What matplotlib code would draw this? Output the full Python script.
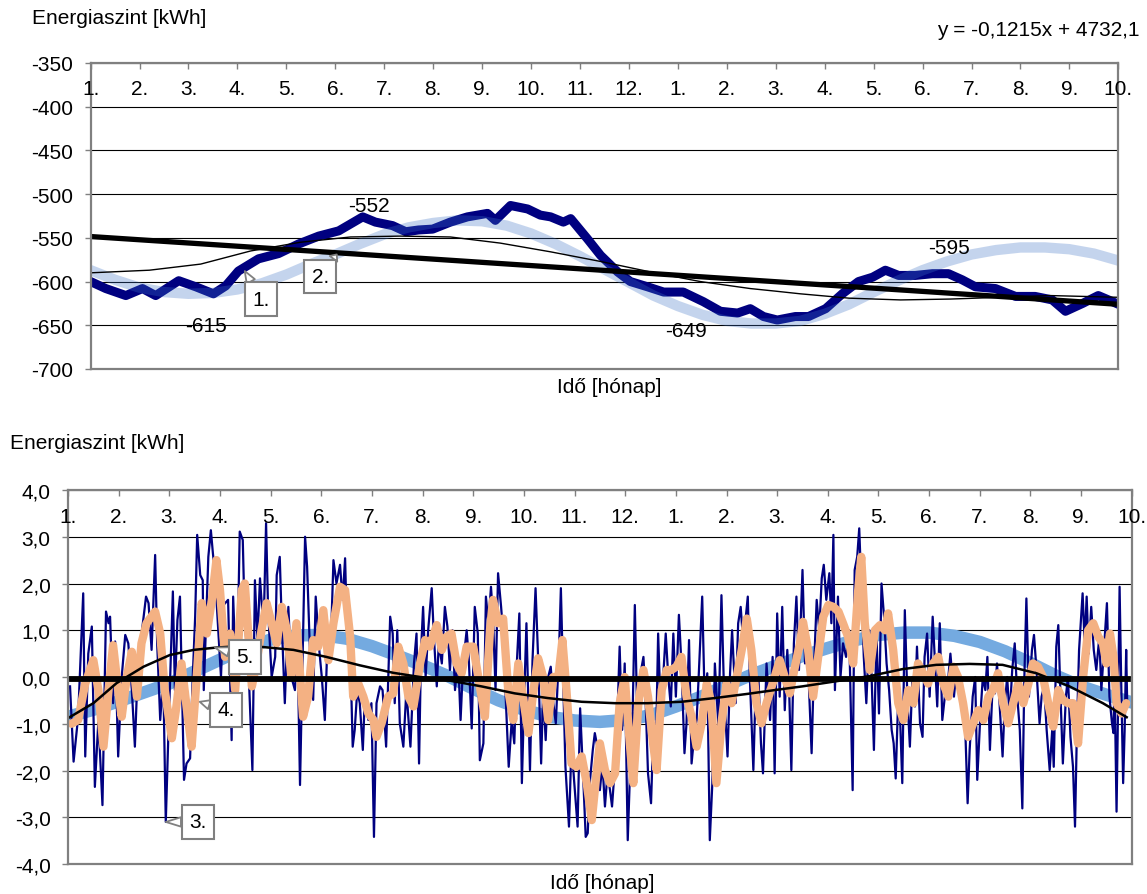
import matplotlib
matplotlib.use("Agg")
import matplotlib.pyplot as plt
from matplotlib.transforms import blended_transform_factory

plt.rcParams["font.family"] = ["Liberation Sans", "DejaVu Sans"]
plt.rcParams["font.size"] = 15

# time axis in months from the first day (0 = "1." of the first year)
month_labels = [f"{m}." for m in range(1, 13)] + [f"{m}." for m in range(1, 11)]

# ---- upper chart: energy level [kWh]
level = [
    (0.00, -600), (0.31, -608), (0.72, -616), (1.06, -608), (1.33, -616), (1.80, -599),
    (2.15, -606), (2.51, -614), (2.76, -605), (3.02, -588), (3.43, -574), (3.84, -568),
    (4.25, -557), (4.66, -548), (5.07, -542), (5.56, -526), (5.82, -532), (6.17, -536),
    (6.44, -543), (6.70, -541), (6.99, -540), (7.35, -532), (7.70, -526), (8.11, -522),
    (8.27, -530), (8.58, -513), (8.93, -517), (9.19, -524), (9.40, -526), (9.66, -532),
    (9.81, -528), (10.15, -551), (10.42, -570), (10.77, -589), (11.03, -600), (11.38, -606),
    (11.71, -612), (12.11, -612), (12.52, -623), (12.87, -634), (13.22, -636), (13.48, -631),
    (13.75, -640), (14.03, -644), (14.40, -640), (14.67, -640), (15.02, -631), (15.36, -614),
    (15.69, -600), (15.98, -595), (16.24, -587), (16.51, -593), (16.85, -593), (17.20, -591),
    (17.53, -591), (17.81, -598), (18.08, -606), (18.49, -608), (18.90, -617), (19.30, -617),
    (19.65, -621), (19.92, -634), (20.27, -625), (20.59, -616), (20.80, -621), (21.00, -626),
]
level_sine = [
    (0.0, -587), (0.5, -598), (1.0, -607), (1.5, -612), (2.0, -614), (2.5, -613),
    (3.0, -609), (3.5, -602), (4.0, -592), (4.5, -580), (5.0, -569), (5.5, -557),
    (6.0, -546), (6.5, -538), (7.0, -533), (7.5, -530), (8.0, -531), (8.5, -536),
    (9.0, -545), (9.5, -557), (10.0, -571), (10.5, -586), (11.0, -601), (11.5, -616),
    (12.0, -628), (12.5, -638), (13.0, -645), (13.5, -648), (14.0, -648), (14.5, -645),
    (15.0, -637), (15.5, -626), (16.0, -612), (16.5, -599), (17.0, -587), (17.5, -577),
    (18.0, -569), (18.5, -564), (19.0, -561), (19.5, -561), (20.0, -563), (20.5, -568),
    (21.0, -576),
]
level_poly = [
    (0.0, -590), (1.2, -587), (2.25, -580), (3.27, -565), (4.29, -555), (5.31, -549),
    (6.33, -548), (7.35, -549), (8.37, -556), (9.4, -566), (10.42, -577), (11.44, -589),
    (12.46, -600), (13.48, -608), (14.0, -611), (14.5, -614), (15.5, -619), (16.55, -621),
    (17.57, -620), (18.6, -618), (19.6, -616), (21.0, -618),
]
trend_t = [0.0, 21.0]
trend_v = [-548.5, -626.0]
extreme_labels = [("-552", 5.69, -513), ("-615", 2.36, -650), ("-649", 12.17, -656), ("-595", 17.54, -561)]

# ---- lower chart: residual after removing the trend [kWh]
residual = [
    (0.04, -0.2), (0.11, -1.81), (0.20, -0.85), (0.30, 1.79), (0.34, -1.7), (0.40, 0.5), (0.47, 1.08),
    (0.53, -2.35), (0.60, -0.92), (0.68, -2.74), (0.75, 1.4), (0.80, 1.15), (0.83, 1.29), (0.89, -0.56),
    (0.93, 0.76), (0.99, -1.7), (1.06, 0.0), (1.13, 0.9), (1.19, 0.72), (1.26, -0.28), (1.32, -1.49),
    (1.39, 0.58), (1.45, 0.9), (1.54, 1.72), (1.59, 1.58), (1.65, 0.58), (1.72, 2.61), (1.76, 0.72),
    (1.82, -0.92), (1.88, 0.0), (1.93, -3.1), (1.98, -1.28), (2.07, 1.83), (2.11, -0.28), (2.16, 1.22),
    (2.21, 1.72), (2.29, -2.2), (2.34, -1.85), (2.41, -1.74), (2.46, -0.06), (2.51, 1.29), (2.55, 3.04),
    (2.61, 2.18), (2.66, 2.07), (2.68, -0.28), (2.74, 1.65), (2.77, 2.57), (2.82, 3.14), (2.86, 2.65),
    (2.90, 2.22), (2.97, 0.93), (3.02, 0.0), (3.07, 1.54), (3.16, 1.65), (3.23, -1.35), (3.26, 1.72),
    (3.33, -0.42), (3.39, 3.11), (3.45, 2.93), (3.49, 1.15), (3.56, 0.29), (3.64, -1.99), (3.69, 2.07),
    (3.74, 0.79), (3.79, 2.11), (3.86, 1.0), (3.91, 3.29), (3.95, 1.43), (4.02, 0.0), (4.09, 0.43),
    (4.12, 2.18), (4.18, 2.57), (4.22, 1.15), (4.28, -0.56), (4.35, 1.5), (4.41, 0.0), (4.48, -0.28),
    (4.53, 0.72), (4.58, -2.31), (4.63, 0.29), (4.68, 3.0), (4.72, 2.36), (4.78, 0.43), (4.84, -0.49),
    (4.89, 1.72), (4.96, 0.58), (5.01, 0.0), (5.07, -0.92), (5.13, 1.0), (5.18, 0.43), (5.24, 2.5),
    (5.30, 2.0), (5.37, 2.4), (5.42, 1.65), (5.47, 2.54), (5.51, 0.86), (5.57, 0.65), (5.62, -1.49),
    (5.66, -1.13), (5.71, -0.28), (5.76, -0.56), (5.82, -1.56), (5.86, -0.42), (5.93, -0.92),
    (5.99, -0.56), (6.04, -3.42), (6.09, -0.56), (6.16, -0.2), (6.21, -0.28), (6.28, -1.49),
    (6.36, 1.29), (6.41, 0.93), (6.45, -0.56), (6.50, 1.0), (6.55, -0.99), (6.62, -1.49), (6.68, -0.28),
    (6.76, -1.49), (6.83, 0.29),
    (6.88, 0.93), (6.93, -1.85), (6.97, 0.58), (7.01, 1.5), (7.06, 0.0), (7.11, 1.0), (7.18, 1.9),
    (7.22, 0.93), (7.28, -0.2), (7.32, 0.72), (7.38, 0.29), (7.44, 1.5), (7.49, 1.08), (7.54, 0.15),
    (7.59, 1.0), (7.64, -0.28), (7.70, 0.43), (7.75, -0.92), (7.80, 0.29), (7.87, 1.0), (7.91, 0.43),
    (7.97, -1.1), (8.03, 1.5), (8.09, 0.93), (8.13, -1.78), (8.20, -1.42), (8.25, 1.72), (8.30, 1.15),
    (8.35, 1.93), (8.39, 1.29), (8.44, -0.28), (8.49, 2.22), (8.55, 1.5), (8.59, 0.93), (8.64, -0.42),
    (8.70, -1.92), (8.76, -0.92), (8.81, -1.42), (8.86, 0.29), (8.91, 1.36), (8.96, -2.27), (9.01, -0.28),
    (9.05, 1.15), (9.12, -1.99), (9.17, 0.36), (9.23, 1.9), (9.28, 0.43), (9.34, -1.85), (9.38, -0.28),
    (9.43, -1.35), (9.48, 0.0), (9.53, 0.22), (9.58, -0.56), (9.63, -0.99), (9.69, 0.43), (9.73, 1.9),
    (9.78, -0.28), (9.82, -1.92), (9.89, -3.2), (9.94, -1.42), (9.99, -2.2), (10.06, -3.2), (10.11, -0.67),
    (10.17, -2.13), (10.22, -3.42), (10.26, -3.34), (10.30, -2.27), (10.36, -1.56), (10.40, -1.2),
    (10.45, -1.49), (10.50, -2.42), (10.55, -1.85), (10.60, -2.77), (10.65, -2.06), (10.70, -2.42),
    (10.74, -2.77), (10.80, -1.85), (10.85, -0.71), (10.89, 0.65), (10.94, -1.13), (10.99, 0.29),
    (11.05, -3.49), (11.09, -2.2), (11.14, -1.13), (11.19, 1.54), (11.24, -0.99), (11.29, 0.0),
    (11.36, 0.43), (11.40, -0.42), (11.45, -2.06), (11.51, -2.7), (11.55, -1.35), (11.60, -1.92),
    (11.65, 0.93), (11.70, -0.71), (11.75, 0.0), (11.80, 0.93), (11.85, 0.0), (11.90, -0.63),
    (11.95, 0.93), (12.00, -0.42), (12.06, 1.33), (12.11, 0.29), (12.17, -1.63), (12.21, -0.99),
    (12.26, 0.79), (12.31, -1.85), (12.36, -1.28), (12.41, -0.92), (12.45, 0.0), (12.52, 1.72),
    (12.57, -0.56), (12.62, 0.08), (12.67, -3.49), (12.72, -2.27), (12.77, 0.29), (12.84, -1.06),
    (12.90, 1.75), (12.95, -0.28), (13.02, -1.7), (13.07, 0.08), (13.11, 1.0), (13.18, -0.56),
    (13.23, 1.15), (13.28, 1.5), (13.33, 0.72), (13.42, 1.72), (13.46, 0.0), (13.53, -1.99),
    (13.57, -0.42), (13.63, 0.0), (13.68, -1.42), (13.72, -2.06), (13.79, 0.29), (13.84, -0.56),
    (13.86, -0.92), (13.91, 0.43), (13.95, -2.06), (14.0, 1.36), (14.05, -0.42), (14.10, 1.5),
    (14.15, -0.71), (14.20, 0.58), (14.24, -0.42), (14.28, -1.99), (14.33, 0.72), (14.38, 1.72),
    (14.43, 0.15), (14.50, 2.29), (14.55, 0.29), (14.59, 0.93), (14.63, -0.28), (14.68, -1.63),
    (14.72, 0.0), (14.78, 1.65), (14.83, 1.0), (14.88, 2.11), (14.92, 2.4), (14.97, 1.65), (15.03, 2.22),
    (15.07, 1.15), (15.11, 3.04), (15.14, -0.28), (15.20, 1.72), (15.25, 0.0), (15.30, 0.72),
    (15.36, 0.43), (15.42, 1.0), (15.49, -2.42), (15.53, 2.29), (15.58, 2.57), (15.62, 3.18),
    (15.66, 2.0), (15.71, 0.43), (15.76, -0.56), (15.82, 1.0), (15.86, 0.15), (15.91, -1.56),
    (15.96, 0.93), (16.01, -0.78), (16.06, 2.0), (16.11, 1.29), (16.16, 0.29), (16.21, -0.28),
    (16.26, -1.13), (16.30, -1.42), (16.34, -2.17), (16.39, -0.42), (16.43, -0.99), (16.47, -2.27),
    (16.52, 1.43), (16.57, -0.42), (16.62, -1.49), (16.67, 0.0), (16.72, -0.63), (16.76, 0.65),
    (16.82, -0.99), (16.87, -1.28), (16.91, 0.43), (16.96, 0.93), (17.01, -0.42), (17.07, 1.29),
    (17.11, 0.43), (17.16, -0.63), (17.21, 1.15), (17.26, -0.92), (17.31, -0.42), (17.38, 0.0),
    (17.42, 0.5), (17.49, -0.42), (17.54, 0.15), (17.61, -0.28), (17.66, -0.63), (17.71, -0.99),
    (17.76, -2.7), (17.80, -1.56), (17.86, -0.42), (17.91, 0.0), (17.95, -2.2), (18.01, -0.85),
    (18.06, 0.0), (18.11, -0.28), (18.15, 0.43), (18.20, -1.56), (18.26, 0.0), (18.30, -0.35),
    (18.34, 0.29), (18.39, -0.56), (18.45, -1.7), (18.49, -0.63), (18.54, 0.0), (18.59, -0.85),
    (18.64, 0.15), (18.69, 0.72), (18.74, -0.42), (18.79, -1.13), (18.84, -2.81), (18.88, 0.0),
    (18.92, 1.68), (18.97, -0.42), (19.03, 0.58), (19.07, 0.9), (19.12, 0.15), (19.18, -0.99),
    (19.22, -0.42), (19.27, -0.2), (19.32, -1.13), (19.38, -1.99), (19.43, -1.13), (19.46, -1.92),
    (19.51, 0.65), (19.55, 1.11), (19.59, -0.28), (19.64, -1.85), (19.70, -0.42), (19.74, 0.0),
    (19.79, -1.28), (19.84, -1.92), (19.88, -3.2), (19.92, -0.99), (19.96, 0.58), (20.03, 1.79),
    (20.07, 0.72), (20.11, 1.72), (20.15, 0.5), (20.20, 1.5), (20.25, 0.58), (20.30, 0.15),
    (20.36, 0.86), (20.40, -0.28), (20.45, 0.58), (20.51, 1.58), (20.56, -0.42), (20.61, -0.99),
    (20.64, -1.2), (20.66, 0.0), (20.70, -2.88), (20.73, -0.63), (20.76, 1.93), (20.79, 0.0),
    (20.83, -2.27), (20.86, -1.13), (20.89, 0.58), (20.91, -0.56),
]
smoothed = [
    (0.07, -1.0), (0.20, -0.92), (0.34, -0.14), (0.50, 0.36), (0.60, -0.28), (0.70, -1.49), (0.80, -0.28),
    (0.89, 0.68), (0.99, -0.28), (1.06, -0.85), (1.16, 0.0), (1.26, 0.54), (1.36, -0.42), (1.45, 0.72),
    (1.55, 1.15), (1.72, 1.4), (1.82, 0.93), (1.91, -0.28), (2.05, -1.31), (2.14, -0.63), (2.24, 0.29),
    (2.34, -0.63), (2.44, -1.49), (2.54, 0.0), (2.64, 1.58), (2.74, 0.93), (2.84, 1.65), (2.93, 2.5),
    (3.0, 1.86), (3.10, 0.43), (3.20, 0.93), (3.30, -0.28), (3.43, 1.86), (3.49, 2.0), (3.63, -0.2),
    (3.72, 0.29), (3.82, 1.0), (3.92, 1.58), (4.02, 1.15), (4.12, 0.72), (4.22, 1.5), (4.32, 1.0),
    (4.41, 0.0), (4.51, 1.15), (4.64, -0.85), (4.74, -0.42), (4.84, 0.79), (4.94, 0.65), (5.04, 1.43),
    (5.14, 0.36), (5.24, 1.15), (5.37, 1.93), (5.47, 1.86), (5.57, 0.86), (5.63, -0.42), (5.73, -0.14),
    (5.83, -0.42), (5.93, -0.78), (6.03, -0.92), (6.09, -1.28), (6.19, -0.99), (6.32, -0.42),
    (6.42, -0.35), (6.52, 0.65), (6.62, 0.29), (6.72, -0.42), (6.82, -0.63),
    (6.95, 0.29), (7.05, 0.79), (7.14, 0.65), (7.28, 1.11), (7.38, 0.58), (7.47, 0.86), (7.57, 0.93),
    (7.67, 0.29), (7.77, 0.08), (7.87, 0.65), (8.0, 0.65), (8.10, 0.0), (8.23, -0.85), (8.33, 1.0),
    (8.39, 1.65), (8.49, 1.15), (8.59, 1.25), (8.69, -0.28), (8.79, -0.92), (8.89, 0.29), (8.99, -0.49),
    (9.09, -1.2), (9.19, -0.28), (9.28, 0.4), (9.38, 0.0), (9.48, -0.92), (9.58, 0.0), (9.68, 0.0),
    (9.76, 0.79), (9.84, -0.28), (9.94, -1.85), (10.04, -1.92), (10.14, -1.7), (10.24, -2.27),
    (10.34, -3.06), (10.44, -1.99), (10.50, -1.42), (10.60, -1.99), (10.70, -2.27), (10.80, -2.06),
    (10.89, -0.56), (10.99, 0.0), (11.09, -1.42), (11.16, -2.27), (11.26, -0.56), (11.36, 0.15),
    (11.45, -0.42), (11.55, -1.42), (11.62, -1.99), (11.72, -0.28), (11.82, 0.15), (11.91, 0.15),
    (12.01, 0.22), (12.11, 0.43), (12.21, -0.42), (12.31, -0.85), (12.41, -1.49), (12.51, -0.99),
    (12.61, -0.14), (12.70, -0.56), (12.80, -2.27), (12.90, -0.99), (13.0, -0.14), (13.10, -0.56),
    (13.20, 0.0), (13.30, 0.58), (13.40, 1.25), (13.49, 0.58), (13.59, -0.56), (13.69, -0.99),
    (13.79, -0.56),
    (13.95, 0.0), (14.05, 0.36), (14.15, 0.0), (14.25, -0.35), (14.35, 0.22), (14.45, 0.72),
    (14.51, 1.18), (14.61, 0.58), (14.71, -0.42), (14.81, 0.43), (14.91, 1.29), (15.01, 1.54),
    (15.11, 1.5), (15.21, 1.4), (15.30, 1.15), (15.40, 0.86), (15.50, 0.29), (15.60, 1.86), (15.66, 2.57),
    (15.73, 1.15), (15.83, 0.15), (15.93, 1.0), (16.03, 1.11), (16.13, 1.0), (16.19, 1.36), (16.29, 0.58),
    (16.39, -0.56), (16.49, -0.92), (16.59, -0.28), (16.69, -0.56), (16.78, 0.29), (16.88, 0.08),
    (16.98, -0.14), (17.08, 0.29), (17.18, 0.43), (17.28, -0.14), (17.38, -0.42), (17.48, 0.22),
    (17.57, 0.0), (17.67, -0.56), (17.77, -1.28), (17.87, -0.99), (17.97, -0.71), (18.07, -0.92),
    (18.17, -0.42), (18.26, -0.28), (18.36, 0.08), (18.46, -0.56), (18.56, -0.99), (18.66, -0.56),
    (18.76, -0.14), (18.86, -0.56), (18.96, -0.14), (19.05, 0.29), (19.15, 0.22), (19.25, 0.0),
    (19.35, -0.56), (19.45, -1.06), (19.55, -0.28), (19.64, -0.49), (19.74, -0.56), (19.84, -0.56),
    (19.94, -1.42), (20.04, 0.0), (20.14, 1.0), (20.24, 1.15), (20.34, 0.86), (20.43, 0.72),
    (20.50, 0.29), (20.57, 0.93), (20.64, 0.43), (20.70, -0.56), (20.80, -0.78), (20.89, -0.56),
]
residual_sine = [
    (0.0, -0.85), (0.5, -0.7), (1.0, -0.52), (1.5, -0.33), (2.0, -0.14), (2.5, 0.12), (3.0, 0.37),
    (3.5, 0.62), (4.0, 0.8), (4.5, 0.89), (5.0, 0.9), (5.5, 0.82), (6.0, 0.66), (6.5, 0.46),
    (7.0, 0.25), (7.5, 0.02), (8.0, -0.25), (8.5, -0.5), (9.0, -0.7), (9.5, -0.85), (10.0, -0.93),
    (10.5, -0.96), (11.0, -0.92), (11.5, -0.82), (12.0, -0.63), (12.5, -0.42), (13.0, -0.18),
    (13.5, 0.05), (14.0, 0.25), (14.5, 0.45), (15.0, 0.62), (15.5, 0.78), (16.0, 0.9), (16.5, 0.95),
    (17.0, 0.95), (17.5, 0.88), (18.0, 0.75), (18.5, 0.55), (19.0, 0.3), (19.5, 0.03), (20.0, -0.2),
    (20.5, -0.38), (20.93, -0.52),
]
residual_poly = [
    (0.0, -0.88), (0.5, -0.56), (0.96, -0.13), (1.49, 0.22), (2.01, 0.47), (2.48, 0.58), (2.93, 0.63),
    (3.4, 0.66), (3.86, 0.64), (4.45, 0.58), (5.1, 0.43), (5.76, 0.25), (6.42, 0.09), (6.95, 0.0),
    (7.5, -0.07), (8.16, -0.2), (8.82, -0.35), (9.47, -0.45), (10.14, -0.53), (10.8, -0.56),
    (11.45, -0.56), (12.11, -0.53), (12.77, -0.45), (13.42, -0.36), (13.95, -0.28), (14.5, -0.2),
    (15.17, -0.09), (15.83, 0.02), (16.48, 0.17), (17.14, 0.26), (17.8, 0.28), (18.45, 0.26),
    (19.12, 0.08), (19.77, -0.2), (20.43, -0.56), (20.9, -0.86),
]
residual_mean_t = [0.0, 20.93]
residual_mean_v = [-0.05, -0.05]

# callouts: (text, point, box centre)
top_callouts = [("1.", (3.15, -588), (3.48, -620)), ("2.", (5.03, -569), (4.69, -594))]
bottom_callouts = [("3.", (1.93, -3.1), (2.56, -3.1)), ("4.", (2.6, -0.53), (3.12, -0.70)),
                   ("5.", (2.9, 0.63), (3.50, 0.43))]

NAVY = "#000080"
GREY = "#808080"


def xy(points):
    return [p[0] for p in points], [p[1] for p in points]


def style_axes(ax, ymin, ymax, step, fmt, label_y):
    ax.set_xlim(0, 21)
    ax.set_ylim(ymin, ymax)
    n = int(round((ymax - ymin) / step))
    yt = [ymin + i * step for i in range(n + 1)]
    ax.set_yticks(yt)
    ax.set_yticklabels([fmt(v) for v in yt])
    ax.grid(axis="y", color="black", lw=0.8)
    ax.set_axisbelow(True)
    for s in ax.spines.values():
        s.set_color(GREY)
        s.set_linewidth(1.6)
        s.set_zorder(10)
    ax.xaxis.set_ticks_position("top")
    ax.set_xticks(range(22))
    ax.tick_params(axis="x", direction="in", length=4.5, width=1, color=GREY,
                   labeltop=False, labelbottom=False)
    ax.tick_params(axis="y", direction="out", length=4.5, width=1, color=GREY,
                   labelsize=15, pad=8)
    tr = blended_transform_factory(ax.transData, ax.transAxes)
    for i, lab in enumerate(month_labels):
        ax.text(i, label_y, lab, transform=tr, ha="center", va="center", fontsize=15, zorder=12)


def callout(ax, text, point, box):
    ax.annotate(text, xy=point, xytext=box, ha="center", va="center", fontsize=15, zorder=20,
                bbox=dict(boxstyle="square,pad=0.35", fc="white", ec=GREY, lw=1.5),
                arrowprops=dict(arrowstyle="wedge,tail_width=0.45,shrink_factor=0.5",
                                fc="white", ec=GREY, lw=1.3, shrinkA=0, shrinkB=0))


fig = plt.figure(figsize=(11.47, 8.95), dpi=100)

# upper chart
ax1 = fig.add_axes([0.0790, 0.5866, 0.8960, 0.3419])
style_axes(ax1, -700, -350, 50, lambda v: f"{v:d}", 0.917)
t, v = xy(level)
ax1.plot(t, v, color=NAVY, lw=6.5, solid_joinstyle="round", solid_capstyle="round", zorder=3)
t, v = xy(level_sine)
ax1.plot(t, v, color="#3e73c6", alpha=0.3, lw=7.5, solid_capstyle="round", zorder=4)
t, v = xy(level_poly)
ax1.plot(t, v, color="black", lw=1.0, zorder=5)
ax1.plot(trend_t, trend_v, color="black", lw=3.8, zorder=6)
for txt, tx, ty in extreme_labels:
    ax1.text(tx, ty, txt, ha="center", va="center", fontsize=15, zorder=12)
for txt, p, b in top_callouts:
    callout(ax1, txt, p, b)

# lower chart
ax2 = fig.add_axes([0.0593, 0.0335, 0.9274, 0.4179])
style_axes(ax2, -4, 4, 1, lambda v: f"{v:.1f}".replace(".", ","), 0.928)
t, v = xy(residual_sine)
ax2.plot(t, v, color="#74aae0", lw=9, zorder=2)
t, v = xy(residual)
ax2.plot(t, v, color=NAVY, lw=1.6, zorder=3)
t, v = xy(smoothed)
ax2.plot(t, v, color="#f4b183", lw=6, solid_joinstyle="round", solid_capstyle="round", zorder=4)
t, v = xy(residual_poly)
ax2.plot(t, v, color="black", lw=1.8, zorder=5)
ax2.plot(residual_mean_t, residual_mean_v, color="black", lw=4.2, zorder=6)
for txt, p, b in bottom_callouts:
    callout(ax2, txt, p, b)

fig.text(32 / 1147, 1 - 18 / 895, "Energiaszint [kWh]", ha="left", va="center", fontsize=15)
fig.text(1140 / 1147, 1 - 30 / 895, "y = -0,1215x + 4732,1", ha="right", va="center", fontsize=15)
fig.text(609 / 1147, 1 - 388 / 895, "Idő [hónap]", ha="center", va="center", fontsize=15)
fig.text(10 / 1147, 1 - 444 / 895, "Energiaszint [kWh]", ha="left", va="center", fontsize=15)
fig.text(602 / 1147, 1 - 884 / 895, "Idő [hónap]", ha="center", va="center", fontsize=15)

fig.savefig("out.png", dpi=100)
